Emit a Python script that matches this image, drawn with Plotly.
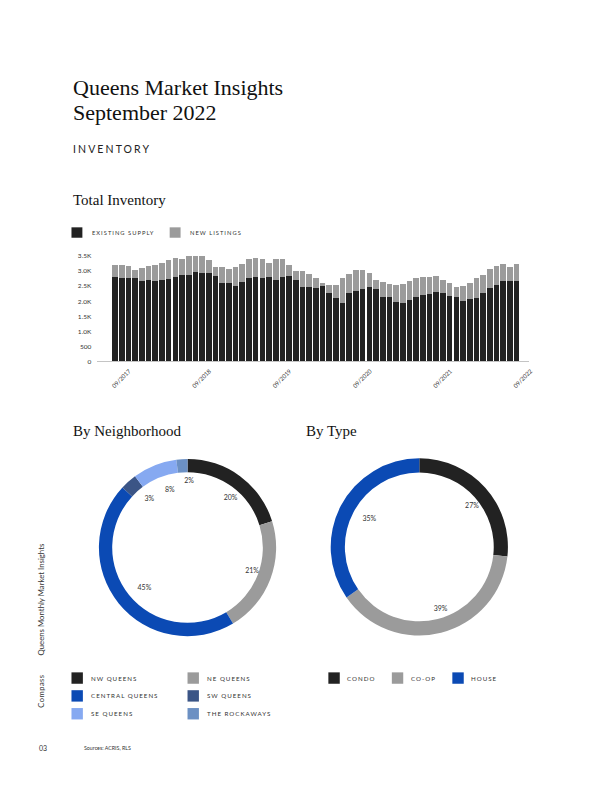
import plotly.graph_objects as go

W, H = 612, 792
OFF = 8  # page body margin in the browser

# ---------------- data ----------------
months = [f"{(8 + i) % 12 + 1:02d}/{2017 + (8 + i) // 12}" for i in range(61)]
tick_labels = ["09/2017", "09/2018", "09/2019", "09/2020", "09/2021", "09/2022"]

existing_supply = [
    2800, 2765, 2775, 2765, 2665, 2700, 2665, 2700, 2730, 2795, 2885, 2885,
    2985, 2930, 2950, 2850, 2620, 2620, 2520, 2630, 2785, 2820, 2775, 2820,
    2720, 2795, 2830, 2700, 2490, 2465, 2435, 2500, 2290, 2095, 1930, 2290,
    2355, 2400, 2480, 2410, 2135, 2125, 1960, 1940, 2025, 2135, 2215, 2245,
    2315, 2260, 2190, 2150, 1995, 2070, 2105, 2260, 2435, 2555, 2685, 2685,
    2685,
]
new_listings = [
    405, 440, 395, 275, 450, 470, 530, 580, 630, 640, 525, 615,
    515, 570, 420, 290, 505, 465, 620, 620, 605, 625, 635, 450,
    690, 595, 385, 315, 525, 440, 340, 90, 245, 450, 835, 630,
    675, 640, 470, 300, 520, 440, 585, 635, 660, 640, 595, 565,
    525, 460, 420, 315, 505, 520, 660, 615, 635, 615, 550, 455,
    565,
]
y_tick_vals = [0, 500, 1000, 1500, 2000, 2500, 3000, 3500]
y_tick_text = ["0", "500", "1.0K", "1.5K", "2.0K", "2.5K", "3.0K", "3.5K"]

bar_series = ["EXISTING SUPPLY", "NEW LISTINGS"]

neighborhoods = ["NW QUEENS", "NE QUEENS", "CENTRAL QUEENS",
                 "SW QUEENS", "SE QUEENS", "THE ROCKAWAYS"]
neighborhood_share = [20, 21, 45, 3, 8, 2]

types = ["CONDO", "CO-OP", "HOUSE"]
type_share = [27, 39, 35]

# ---------------- styles ----------------
BAR_COLORS = ["#222222", "#9b9b9b"]
NB_COLORS = ["#222222", "#9b9b9b", "#0b4ab4", "#3b5586", "#86a9f1", "#6c90c3"]
TYPE_COLORS = ["#222222", "#9b9b9b", "#0b4ab4"]
SERIF = "Liberation Serif"
SANS = "Lato"


def px(x):
    return (x - OFF) / W


def py(y):
    return 1 - (y - OFF) / H


fig = go.Figure()

# ---------------- bar chart ----------------
fig.add_trace(go.Bar(x=months, y=existing_supply, name=bar_series[0],
                     marker=dict(color=BAR_COLORS[0], line=dict(width=0)),
                     xaxis="x", yaxis="y", showlegend=False))
fig.add_trace(go.Bar(x=months, y=new_listings, name=bar_series[1],
                     marker=dict(color=BAR_COLORS[1], line=dict(width=0)),
                     xaxis="x", yaxis="y", showlegend=False))

# ---------------- donuts ----------------
def donut_domain(cx, cy, r):
    return dict(x=[px(cx - r), px(cx + r)], y=[py(cy + r), py(cy - r)])


NB_C = (189, 548.3)
TY_C = (422.7, 547.7)
R_OUT = 89.4
R_LBL = 73
NB_LBL_C = (NB_C[0] + 6, NB_C[1])   # percentage labels sit a little right of the slice middle
TY_LBL_C = (TY_C[0] + 6, TY_C[1])

fig.add_trace(go.Pie(values=neighborhood_share, labels=neighborhoods,
                     marker=dict(colors=NB_COLORS, line=dict(width=0)),
                     hole=0.85, sort=False, direction="clockwise",
                     textinfo="none", showlegend=False,
                     domain=donut_domain(*NB_C, R_OUT)))
fig.add_trace(go.Pie(values=neighborhood_share, labels=neighborhoods,
                     marker=dict(colors=["rgba(0,0,0,0)"] * len(neighborhoods), line=dict(width=0)),
                     hole=0.74, sort=False, direction="clockwise",
                     texttemplate="%{value}%", textposition="inside",
                     insidetextorientation="horizontal",
                     textfont=dict(family=SANS, size=7, color="#333333"),
                     showlegend=False, hoverinfo="skip",
                     domain=donut_domain(*NB_LBL_C, R_LBL)))

fig.add_trace(go.Pie(values=type_share, labels=types,
                     marker=dict(colors=TYPE_COLORS, line=dict(width=0)),
                     hole=0.84, sort=False, direction="clockwise",
                     textinfo="none", showlegend=False,
                     domain=donut_domain(*TY_C, R_OUT)))
fig.add_trace(go.Pie(values=type_share, labels=types,
                     marker=dict(colors=["rgba(0,0,0,0)"] * len(types), line=dict(width=0)),
                     hole=0.74, sort=False, direction="clockwise",
                     texttemplate="%{value}%", textposition="inside",
                     insidetextorientation="horizontal",
                     textfont=dict(family=SANS, size=7, color="#333333"),
                     showlegend=False, hoverinfo="skip",
                     domain=donut_domain(*TY_LBL_C, R_LBL)))

# ---------------- annotations / legends ----------------
annotations = []
shapes = []


def text(t, x, y, size, family=SANS, color="#222222", xanchor="left",
         yanchor="middle", angle=0, spacing=None):
    if spacing:
        t = f'<span style="letter-spacing:{spacing}px">{t}</span>'
    annotations.append(dict(text=t, x=px(x), y=py(y), xref="paper", yref="paper",
                            xanchor=xanchor, yanchor=yanchor, showarrow=False,
                            textangle=angle,
                            font=dict(family=family, size=size, color=color)))


def swatch(x, y, color, w=11.3, h=11):
    shapes.append(dict(type="rect", xref="paper", yref="paper",
                       x0=px(x), x1=px(x + w), y0=py(y + h / 2), y1=py(y - h / 2),
                       fillcolor=color, line=dict(width=0)))


text("Queens Market Insights", 72, 84.5, 22, SERIF, "#111111")
text("September 2022", 72, 109.5, 22, SERIF, "#111111")
text("INVENTORY", 72, 146.7, 10.5, SANS, "#222222", spacing=2.1)
text("Total Inventory", 72, 198, 15, SERIF, "#111111")
text("By Neighborhood", 72, 431, 15, SERIF, "#111111")
text("By Type", 306, 431, 15, SERIF, "#111111")

# bar legend
bar_leg_x = [72, 171]
for name, col, lx in zip(bar_series, BAR_COLORS, bar_leg_x):
    swatch(lx, 230.5, col, 11, 10.5)
    text(name, lx + 18.5, 230.5, 5.8, SANS, "#333333", spacing=1.0)

# neighborhood legend (2 columns)
nb_col_x = [72, 189]
nb_row_y = [680, 698, 716]
for i, (name, col) in enumerate(zip(neighborhoods, NB_COLORS)):
    lx = nb_col_x[i % 2]
    ly = nb_row_y[i // 2]
    swatch(lx, ly, col, 11.5, 11.5)
    text(name, lx + 18, ly, 6.2, SANS, "#333333", spacing=1.0)

# type legend
type_leg_x = [331, 395, 456]
for name, col, lx in zip(types, TYPE_COLORS, type_leg_x):
    swatch(lx, 680, col, 11.5, 11.5)
    text(name, lx + 17, 680, 6.2, SANS, "#333333", spacing=1.0)

# side / footer text
text("Queens Monthly Market Insights", 41.5, 600.5, 7.8, SANS, "#333333",
     xanchor="center", angle=-90)
text("Compass", 41.5, 693.5, 7.5, SANS, "#333333", xanchor="center", angle=-90,
     spacing=0.5)
text("03", 37, 750.7, 7, SANS, "#333333")
text("Sources: ACRIS, RLS", 82.7, 750.7, 5.3, SANS, "#333333")

fig.update_layout(
    width=W, height=H,
    margin=dict(l=0, r=0, t=0, b=0),
    paper_bgcolor="white", plot_bgcolor="white",
    barmode="stack", bargap=0.16,
    uniformtext=dict(minsize=7, mode="show"),
    annotations=annotations, shapes=shapes,
    xaxis=dict(domain=[px(98), px(533)], anchor="y", type="category",
               range=[-2.67, 61.82], tickmode="array",
               tickvals=tick_labels, ticktext=tick_labels,
               tickangle=-45, tickfont=dict(family=SANS, size=6, color="#333333"),
               showline=True, linecolor="#c4c4c4", linewidth=1,
               showgrid=False, zeroline=False, ticks="",
               ticklabelshift=14, ticklabelstandoff=3),
    yaxis=dict(domain=[py(360.5), py(254.3)], anchor="x", range=[0, 3500],
               tickmode="array", tickvals=y_tick_vals, ticktext=y_tick_text,
               tickfont=dict(family=SANS, size=6.5, color="#333333"),
               showgrid=False, zeroline=False, showline=False, ticks="",
               ticklabelstandoff=5),
    showlegend=False,
)

fig.write_html("out.html")
